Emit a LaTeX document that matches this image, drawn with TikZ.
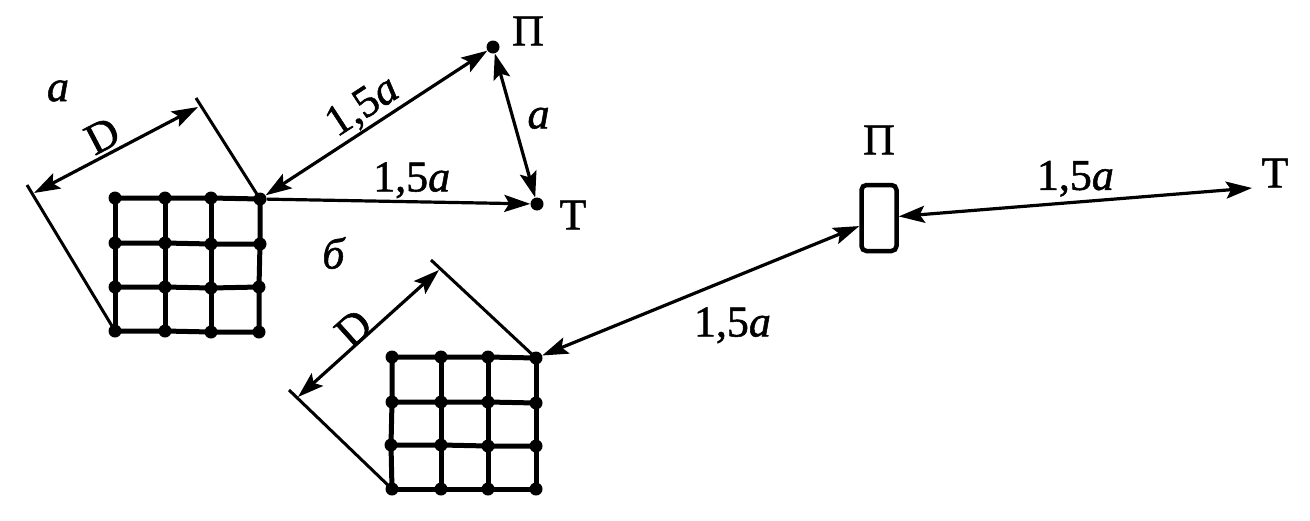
\documentclass[tikz,border=0pt]{standalone}
\usepackage{fontspec}
\setmainfont{Liberation Serif}[FakeBold=1.2]
\usetikzlibrary{arrows.meta}
\pgfdeclarelayer{nodelayer}
\pgfdeclarelayer{edgelayer}
\pgfsetlayers{edgelayer,nodelayer,main}
\tikzstyle{dot style}=[fill=black, draw=none, shape=circle, inner sep=0pt, minimum size=13pt]
\tikzstyle{none}=[fill=none, draw=none, shape=circle, scale=0]
\tikzstyle{box style}=[fill=white, draw=black, shape=rectangle, rounded corners=5pt, line width=4.5pt, minimum width=35pt, minimum height=66pt]
\tikzstyle{text style}=[inner sep=0pt, font=\fontsize{44}{48}\selectfont]
\tikzstyle{arrow edge style}=[draw=black, line width=3.2pt, {Stealth[length=26pt,width=17pt,inset=5pt]}-{Stealth[length=26pt,width=17pt,inset=5pt]}]
\tikzstyle{single edge style}=[draw=black, line width=3.2pt, -{Stealth[length=26pt,width=17pt,inset=5pt]}]
\tikzstyle{grid edge style}=[draw=black, line width=5pt]
\tikzstyle{tick edge style}=[draw=black, line width=3pt]

\begin{document}
\begin{tikzpicture}[x=1pt, y=-1pt]
	\useasboundingbox (0, 0) rectangle (1310, 520);
	\begin{pgfonlayer}{nodelayer}
		% left array
		\node [style=dot style] (0) at (115, 198) {};
		\node [style=dot style] (1) at (165, 198) {};
		\node [style=dot style] (2) at (211, 198) {};
		\node [style=dot style] (3) at (260, 199) {};
		\node [style=dot style] (4) at (115, 243) {};
		\node [style=dot style] (5) at (165, 243) {};
		\node [style=dot style] (6) at (211, 244) {};
		\node [style=dot style] (7) at (260, 244) {};
		\node [style=dot style] (8) at (115, 287) {};
		\node [style=dot style] (9) at (165, 287) {};
		\node [style=dot style] (10) at (211, 288) {};
		\node [style=dot style] (11) at (259, 287) {};
		\node [style=dot style] (12) at (115, 331) {};
		\node [style=dot style] (13) at (165, 331) {};
		\node [style=dot style] (14) at (211, 332) {};
		\node [style=dot style] (15) at (259, 332) {};
		% right array
		\node [style=dot style] (16) at (392, 357) {};
		\node [style=dot style] (17) at (441, 357) {};
		\node [style=dot style] (18) at (488, 357) {};
		\node [style=dot style] (19) at (536, 358) {};
		\node [style=dot style] (20) at (392, 402) {};
		\node [style=dot style] (21) at (441, 402) {};
		\node [style=dot style] (22) at (488, 402) {};
		\node [style=dot style] (23) at (536, 403) {};
		\node [style=dot style] (24) at (391, 445) {};
		\node [style=dot style] (25) at (441, 445) {};
		\node [style=dot style] (26) at (488, 446) {};
		\node [style=dot style] (27) at (536, 446) {};
		\node [style=dot style] (28) at (392, 489) {};
		\node [style=dot style] (29) at (441, 489) {};
		\node [style=dot style] (30) at (488, 489) {};
		\node [style=dot style] (31) at (536, 489) {};
		% transmitter and target
		\node [style=dot style] (32) at (493, 47) {};
		\node [style=dot style] (33) at (537, 204) {};
		\node [style=box style] (34) at (879, 218) {};
		\node [style=none] (35) at (1252, 188) {};
		% ticks and dimension ends
		\node [style=none] (36) at (196, 98) {};
		\node [style=none] (37) at (27, 185) {};
		\node [style=none] (38) at (431, 260) {};
		\node [style=none] (39) at (289, 390) {};
		\node [style=none] (40) at (198, 107) {};
		\node [style=none] (41) at (34, 193) {};
		\node [style=none] (42) at (439, 270) {};
		\node [style=none] (43) at (298, 397) {};
		% labels
		\node [style=text style] (44) at (58, 91) {\textit{а}};
		\node [style=text style] (45) at (334, 253) {\textit{б}};
		\node [style=text style] (46) at (528, 31) {П};
		\node [style=text style] (47) at (573, 215) {Т};
		\node [style=text style] (48) at (879, 140) {П};
		\node [style=text style] (49) at (1275, 173) {Т};
	\end{pgfonlayer}
	\begin{pgfonlayer}{edgelayer}
		\draw [style=grid edge style] (0.center) -- (1.center) -- (2.center) -- (3.center);
		\draw [style=grid edge style] (4.center) -- (5.center) -- (6.center) -- (7.center);
		\draw [style=grid edge style] (8.center) -- (9.center) -- (10.center) -- (11.center);
		\draw [style=grid edge style] (12.center) -- (13.center) -- (14.center) -- (15.center);
		\draw [style=grid edge style] (0.center) -- (4.center) -- (8.center) -- (12.center);
		\draw [style=grid edge style] (1.center) -- (5.center) -- (9.center) -- (13.center);
		\draw [style=grid edge style] (2.center) -- (6.center) -- (10.center) -- (14.center);
		\draw [style=grid edge style] (3.center) -- (7.center) -- (11.center) -- (15.center);
		\draw [style=grid edge style] (16.center) -- (17.center) -- (18.center) -- (19.center);
		\draw [style=grid edge style] (20.center) -- (21.center) -- (22.center) -- (23.center);
		\draw [style=grid edge style] (24.center) -- (25.center) -- (26.center) -- (27.center);
		\draw [style=grid edge style] (28.center) -- (29.center) -- (30.center) -- (31.center);
		\draw [style=grid edge style] (16.center) -- (20.center) -- (24.center) -- (28.center);
		\draw [style=grid edge style] (17.center) -- (21.center) -- (25.center) -- (29.center);
		\draw [style=grid edge style] (18.center) -- (22.center) -- (26.center) -- (30.center);
		\draw [style=grid edge style] (19.center) -- (23.center) -- (27.center) -- (31.center);
		\draw [style=tick edge style] (36.center) to (3.center);
		\draw [style=tick edge style] (37.center) to (12.center);
		\draw [style=tick edge style] (38.center) to (19.center);
		\draw [style=tick edge style] (39.center) to (28.center);
		\draw [style=arrow edge style] (41.center) to node [style=text style, sloped, pos=0.47, above=3pt] {D} (40.center);
		\draw [style=arrow edge style] (43.center) to node [style=text style, sloped, pos=0.46, above=-2pt] {D} (42.center);
		\draw [style=arrow edge style] (3) to node [style=text style, sloped, pos=0.49, above=1pt] {1,5\textit{а}} (32);
		\draw [style=arrow edge style] (32) to node [style=text style, pos=0.45, right=13pt] {\textit{а}} (33);
		\draw [style=single edge style] (3) to node [style=text style, pos=0.55, above=2pt] {1,5\textit{а}} (33);
		\draw [style=arrow edge style] (19) to node [style=text style, pos=0.6, below=28pt] {1,5\textit{а}} (34);
		\draw [style=arrow edge style] (34) to node [style=text style, pos=0.5, above=4pt] {1,5\textit{а}} (35.center);
	\end{pgfonlayer}
\end{tikzpicture}
\end{document}
